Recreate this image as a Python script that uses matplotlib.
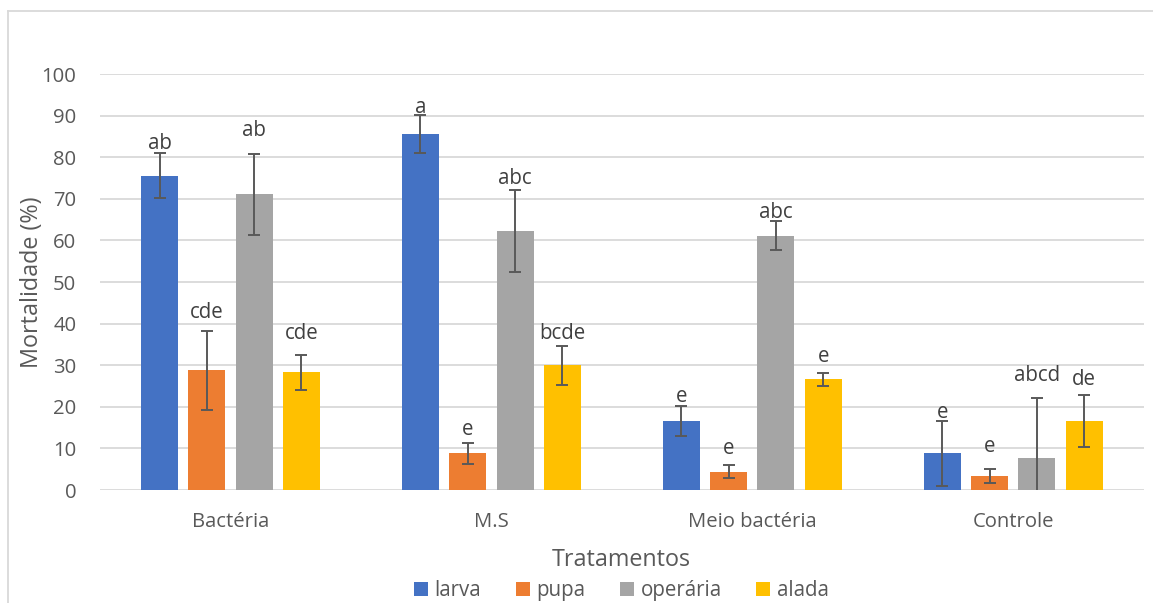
import matplotlib
matplotlib.use("Agg")
import matplotlib.pyplot as plt
from matplotlib.lines import Line2D
import numpy as np

plt.rcParams['font.family'] = ['Open Sans', 'DejaVu Sans']

# Treatments and insect castes
tratamentos = ["Bactéria", "M.S", "Meio bactéria", "Controle"]
series_names = ["larva", "pupa", "operária", "alada"]

# Mean mortality (%) per caste and treatment
larva = [75.6, 85.6, 16.6, 8.8]
pupa = [28.8, 8.8, 4.4, 3.3]
operaria = [71.1, 62.2, 61.1, 7.8]
alada = [28.3, 30.0, 26.6, 16.6]

# Standard errors
larva_err = [5.4, 4.6, 3.65, 7.9]
pupa_err = [9.5, 2.5, 1.6, 1.7]
operaria_err = [9.7, 9.85, 3.45, 14.2]
alada_err = [4.2, 4.65, 1.6, 6.3]

# Statistical grouping letters
larva_letters = ["ab", "a", "e", "e"]
pupa_letters = ["cde", "e", "e", "e"]
operaria_letters = ["ab", "abc", "abc", "abcd"]
alada_letters = ["cde", "bcde", "e", "de"]

# Gap (points) between the top of each error bar and its letter
letter_pad = [
    [3, 1, 3, 1.5],
    [9, 5.5, 8, 12.5],
    [13, 4.5, 2.5, 12.5],
    [11.5, 5, 8, 7],
]

colors = ["#4472C4", "#ED7D31", "#A5A5A5", "#FFC000"]
values = [larva, pupa, operaria, alada]
errors = [larva_err, pupa_err, operaria_err, alada_err]
letters = [larva_letters, pupa_letters, operaria_letters, alada_letters]

W, H = 1153, 603
fig = plt.figure(figsize=(W / 100, H / 100), dpi=100)
ax = fig.add_axes([100 / W, 1 - 490 / H, (1143.7 - 100) / W, (490 - 74) / H])

x = np.arange(len(tratamentos))
step = 0.1813
bar_w = 0.1418

for k, (vals, errs, labs, col) in enumerate(zip(values, errors, letters, colors)):
    pos = x + (k - 1.5) * step
    ax.bar(pos, vals, width=bar_w, color=col, zorder=2, label=series_names[k])
    ax.errorbar(pos, vals, yerr=errs, fmt='none', ecolor='#595959',
                elinewidth=1.4, capsize=4.3, capthick=1.4, zorder=3)
    for i, (p, v, e, t) in enumerate(zip(pos, vals, errs, labs)):
        ax.annotate(t, xy=(p, v + e), xytext=(0, letter_pad[k][i]),
                    textcoords='offset points', ha='center', va='baseline',
                    fontsize=14.8, color='#404040', zorder=4)

ax.set_xlim(-0.5, len(tratamentos) - 0.5)
ax.set_ylim(0, 100)
ax.set_yticks(np.arange(0, 101, 10))
ax.yaxis.grid(True, color='#D9D9D9', linewidth=1.3, zorder=0)
ax.set_axisbelow(True)
for s in ax.spines.values():
    s.set_visible(False)
ax.set_xticks(x)
ax.set_xticklabels(tratamentos)
ax.tick_params(axis='both', length=0, labelsize=14.6, labelcolor='#595959')
ax.tick_params(axis='x', pad=16)
ax.tick_params(axis='y', pad=17)

fig.text(32 / W, 1 - 282 / H, "Mortalidade (%)", rotation=90, ha='center',
         va='center', fontsize=16.8, color='#595959')
fig.text(621.5 / W, 1 - 566 / H, "Tratamentos", ha='center', va='baseline',
         fontsize=16.8, color='#595959')

fig.legend(loc='center', bbox_to_anchor=(621.5 / W, 1 - 590.5 / H), ncol=4,
           frameon=False, handlelength=0.68, handleheight=0.68,
           handletextpad=0.3, columnspacing=1.7, fontsize=14.8,
           labelcolor='#595959', borderpad=0.1)

# Chart-area frame (top and left edges)
fig.add_artist(Line2D([8 / W, 1], [1 - 10.7 / H, 1 - 10.7 / H],
                      transform=fig.transFigure, color='#D9D9D9', lw=1.3))
fig.add_artist(Line2D([8 / W, 8 / W], [0, 1 - 10.7 / H],
                      transform=fig.transFigure, color='#D9D9D9', lw=1.3))

fig.savefig("out.png", dpi=100)
